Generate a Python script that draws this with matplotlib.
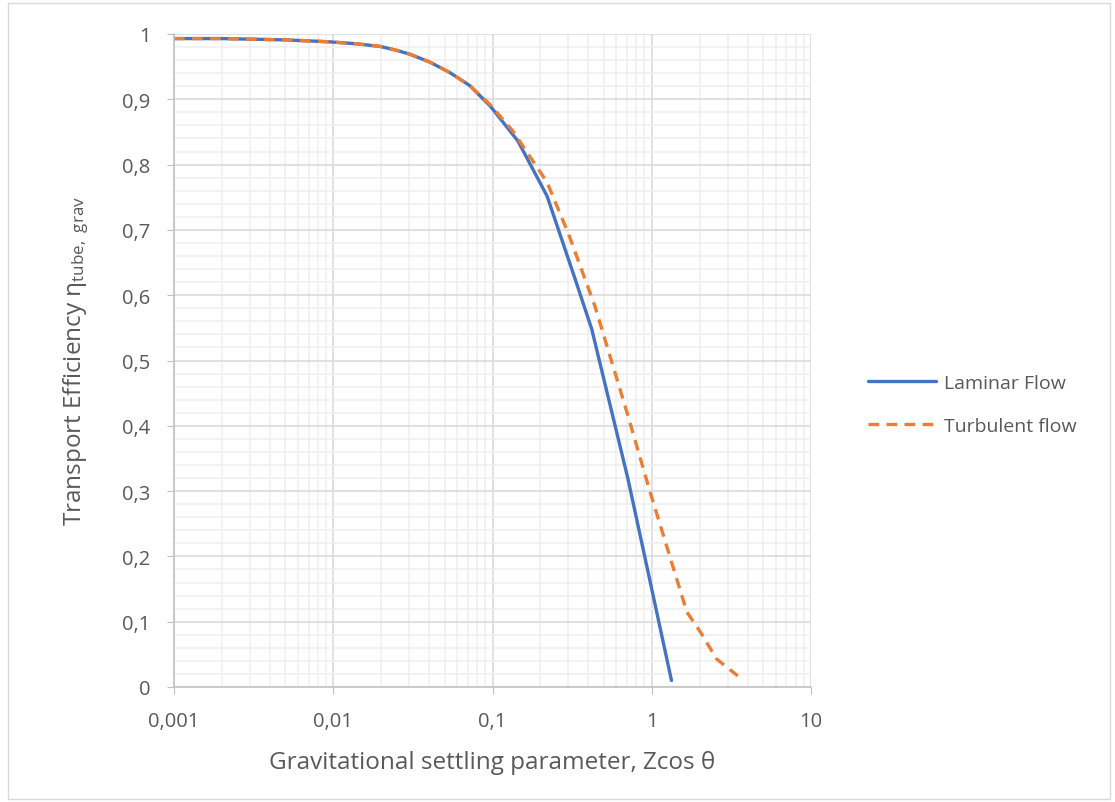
import matplotlib
matplotlib.use("Agg")
import matplotlib.pyplot as plt
from matplotlib.ticker import FixedLocator, FuncFormatter, MultipleLocator, LogLocator, NullFormatter
from matplotlib.patches import Rectangle

plt.rcParams['font.family'] = ['Open Sans', 'DejaVu Sans']
plt.rcParams['mathtext.fontset'] = 'custom'
plt.rcParams['mathtext.rm'] = 'Open Sans'
plt.rcParams['mathtext.it'] = 'Open Sans'

laminar_x = [0.001, 0.002, 0.005, 0.0095, 0.014, 0.0197, 0.025, 0.0303, 0.0404, 0.0539, 0.072, 0.0965, 0.108, 0.1445, 0.22, 0.33, 0.42, 0.71, 1.33]
laminar_y = [0.993, 0.993, 0.991, 0.988, 0.985, 0.981, 0.975, 0.969, 0.957, 0.941, 0.921, 0.890, 0.875, 0.836, 0.752, 0.625, 0.548, 0.318, 0.01]

turb_x = [0.001, 0.002, 0.005, 0.0095, 0.014, 0.0197, 0.025, 0.0303, 0.0404, 0.0539, 0.072, 0.0965, 0.1346, 0.22, 0.3, 0.44, 0.7, 0.975, 1.66, 2.06, 2.55, 3.47]
turb_y = [0.993, 0.993, 0.991, 0.988, 0.985, 0.981, 0.975, 0.969, 0.957, 0.941, 0.921, 0.892, 0.851, 0.773, 0.694, 0.583, 0.42, 0.299, 0.115, 0.081, 0.043, 0.017]

x_ticks = [0.001, 0.01, 0.1, 1, 10]
y_ticks = [0, 0.1, 0.2, 0.3, 0.4, 0.5, 0.6, 0.7, 0.8, 0.9, 1]

fig = plt.figure(figsize=(11.15, 8.03), dpi=100)
fig.patches.append(Rectangle((8/1115, 3/803), 1102/1115, 796/803, transform=fig.transFigure,
                             fill=False, edgecolor='#d9d9d9', linewidth=1))
ax = fig.add_axes([174/1115, 1-688/803, (811-174)/1115, (688-35)/803])

ax.plot(laminar_x, laminar_y, color='#4472C4', lw=2.4, label='Laminar Flow', solid_capstyle='round')
ax.plot(turb_x, turb_y, color='#ED7D31', lw=2.4, ls=(0, (3.2, 2.2)), label='Turbulent flow')

ax.set_xscale('log')
ax.set_xlim(0.001, 10)
ax.set_ylim(0, 1)
ax.xaxis.set_major_locator(FixedLocator(x_ticks))
ax.xaxis.set_minor_locator(LogLocator(base=10, subs=range(2, 10)))
ax.xaxis.set_minor_formatter(NullFormatter())
ax.xaxis.set_major_formatter(FuncFormatter(lambda v, p: ('%g' % v).replace('.', ',')))
ax.yaxis.set_major_locator(FixedLocator(y_ticks))
ax.yaxis.set_minor_locator(MultipleLocator(0.02))
ax.yaxis.set_major_formatter(FuncFormatter(lambda v, p: ('%g' % round(v, 2)).replace('.', ',')))

ax.grid(True, which='major', color='#d9d9d9', lw=1.1)
ax.grid(True, which='minor', color='#efefef', lw=1.1)
ax.set_axisbelow(True)
for s in ['top', 'right']:
    ax.spines[s].set_visible(False)
for s in ['left', 'bottom']:
    ax.spines[s].set_color('#bfbfbf')
    ax.spines[s].set_linewidth(1.1)
ax.tick_params(which='major', length=5, color='#bfbfbf', labelsize=14.5, labelcolor='#595959')
ax.tick_params(axis='x', which='major', pad=12)
ax.tick_params(axis='y', which='major', pad=12)
ax.tick_params(which='minor', length=0)

ax.set_xlabel('Gravitational settling parameter, Zcos θ', fontsize=17.5, color='#595959', labelpad=14)
ax.set_ylabel('Transport Efficiency η$_{\\mathrm{tube,\\ grav}}$', fontsize=17.5, color='#595959', labelpad=22)

leg = ax.legend(loc='center left', bbox_to_anchor=(1.089, 0.4326), frameon=False, fontsize=14,
                handlelength=3.5, labelspacing=1.3, handletextpad=0.4, borderaxespad=0, borderpad=0)
for t in leg.get_texts():
    t.set_color('#595959')

fig.savefig('out.png', dpi=100)
